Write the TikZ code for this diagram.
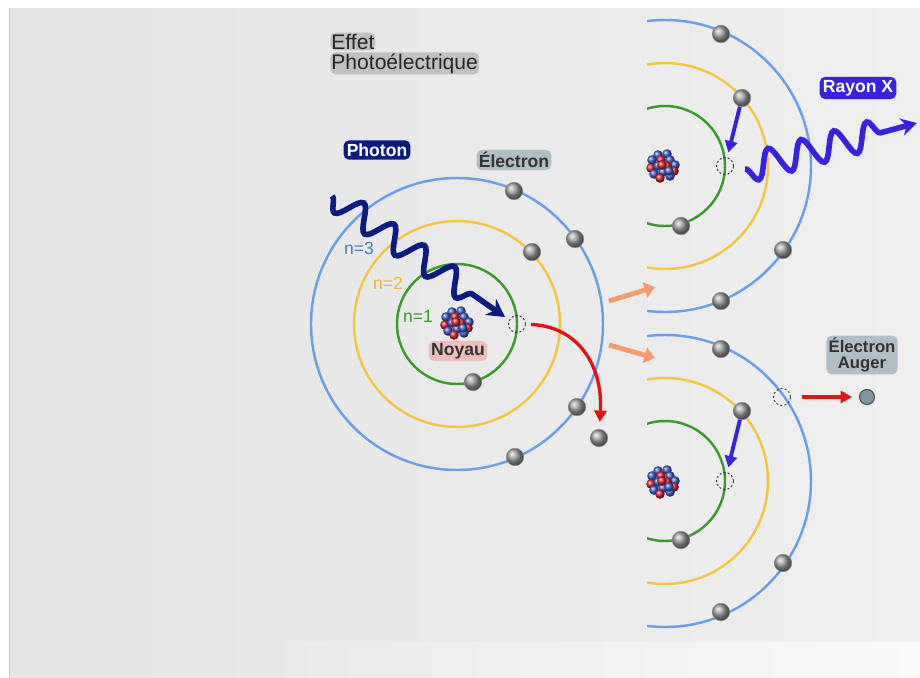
\documentclass[tikz,border=0pt]{standalone}
\usepackage{fontspec}
\setmainfont{Liberation Sans}
\usetikzlibrary{arrows.meta, decorations.pathmorphing}

\definecolor{orbthree}{HTML}{6A9FE6}
\definecolor{orbtwo}{HTML}{F4C63E}
\definecolor{orbone}{HTML}{3C9A2C}
\definecolor{photonblue}{HTML}{0C1A82}
\definecolor{xrayblue}{HTML}{3A1FE4}
\definecolor{ejectred}{HTML}{E01414}
\definecolor{stepsalmon}{HTML}{F59C6C}
\definecolor{nucred}{HTML}{D41E2C}
\definecolor{nucblue}{HTML}{3A5CC8}
\definecolor{haloslate}{HTML}{9DB0B7}
\definecolor{halopink}{HTML}{EDB0AE}
\definecolor{halogray}{HTML}{B4B4B4}

\begin{document}
\begin{tikzpicture}[x=0.02cm, y=-0.02cm, >=Stealth,
    orbit/.style={line width=1.4pt},
    electron/.style={circle, inner sep=0pt, minimum size=0.35cm,
        ball color=gray!75, draw=black!45, line width=0.3pt},
    hole/.style={circle, inner sep=0pt, minimum size=0.34cm,
        draw=black!80, line width=0.5pt, dash pattern=on 1.2pt off 1.2pt},
    jump/.style={xrayblue, line width=2.2pt, shorten >=0.1cm,
        -{Triangle[length=6.5pt, width=7pt]}},
    eject/.style={ejectred, line width=1.9pt, shorten <=0.1cm, shorten >=0.14cm,
        -{Triangle[length=6.5pt, width=7pt]}},
    boost/.style={stepsalmon, line width=2.8pt, -{Triangle[length=6pt, width=9pt]}},
    photon/.style={photonblue, line width=3.2pt, -{Stealth[length=10pt, width=11pt]},
        decorate, decoration={snake, amplitude=0.25cm, segment length=0.74cm,
        post length=0.75cm, mirror}},
    xray/.style={xrayblue, line width=3.2pt, -{Stealth[length=9pt, width=10pt]},
        decorate, decoration={snake, amplitude=0.28cm, segment length=0.68cm,
        post length=0.5cm, mirror}},
    glow/.style={inner sep=1.3pt, rounded corners=3pt, fill opacity=0.75, text opacity=1},
    tag/.style={glow, font=\bfseries\fontsize{10}{11}\selectfont, text=black!80},
    level/.style={font=\fontsize{10}{11}\selectfont, inner sep=0pt},
    nucleus/.pic={
        \foreach \dx/\dy/\c in {-5/-11/nucblue, 4/-12/nucblue, -11/-6/nucblue,
            -2/-6/nucred, 7/-6/nucblue, 12/-1/nucblue, -12/2/nucred, -5/0/nucblue,
            4/0/nucred, 11/5/nucred, -9/8/nucblue, 0/6/nucblue, 7/10/nucblue,
            -3/12/nucred, -1/-1/nucred, 6/5/nucblue}
            \shade[ball color=\c] (\dx,\dy) circle (4.8);
    }]

    % background
    \useasboundingbox (0,0) rectangle (920,677);
    \fill[white] (0,0) rectangle (920,677);
    \shade[left color={rgb,255:red,229;green,229;blue,229}, right color={rgb,255:red,239;green,239;blue,239}]
        (9,8) rectangle (920,677);
    \shade[left color={rgb,255:red,234;green,234;blue,234}, right color={rgb,255:red,249;green,249;blue,249}]
        (285,642) rectangle (920,677);
    \draw[black!22, line width=0.6pt] (9.5,8) -- (9.5,677);

    % main atom
    \draw[orbthree, orbit] (457,324) circle (146);
    \draw[orbtwo, orbit] (457,324) circle (103);
    \draw[orbone, orbit] (457,324) circle (60);
    \pic at (457,323) {nucleus};

    % atoms after the ejection (cut at the left)
    \begin{scope}
        \clip (647,0) rectangle (920,677);
        \draw[orbthree, orbit] (665,166) circle (146);
        \draw[orbtwo, orbit] (665,166) circle (103);
        \draw[orbone, orbit] (665,166) circle (60);
        \draw[orbthree, orbit] (665,481) circle (146);
        \draw[orbtwo, orbit] (665,481) circle (103);
        \draw[orbone, orbit] (665,481) circle (60);
    \end{scope}
    \pic at (663,166) {nucleus};
    \pic at (663,482) {nucleus};

    \node[electron] (eA1) at (514,191) {};
    \node[electron] (eA2) at (575,239) {};
    \node[electron] (eA3) at (532,252) {};
    \node[electron] (eA4) at (473,382) {};
    \node[electron] (eA5) at (577,407) {};
    \node[electron] (eA6) at (515,457) {};
    \node[electron] (eOut) at (599,438) {};
    \node[hole] (vA) at (517,324) {};

    \node[electron] (eT1) at (721,34) {};
    \node[electron] (eT2) at (742,98) {};
    \node[electron] (eT3) at (681,226) {};
    \node[electron] (eT4) at (783,250) {};
    \node[electron] (eT5) at (721,301) {};
    \node[hole] (vT) at (725,166) {};

    \node[electron] (eB1) at (721,349) {};
    \node[electron] (eB2) at (742,411) {};
    \node[electron] (eB3) at (681,540) {};
    \node[electron] (eB4) at (783,563) {};
    \node[electron] (eB5) at (721,612) {};
    \node[hole] (vB) at (725,481) {};
    \node[hole] (vB3) at (782,397) {};
    \node[circle, inner sep=0pt, minimum size=0.3cm, fill={rgb,255:red,128;green,148;blue,158},
        draw=black!70, line width=0.6pt] (auger) at (867,397) {};

    \coordinate (phstart) at (332,196);
    \coordinate (phend) at (505,317);
    \coordinate (xstart) at (745,169);
    \coordinate (xend) at (917,123);
    \coordinate (up0) at (609,301);
    \coordinate (up1) at (655,287);
    \coordinate (dn0) at (609,345);
    \coordinate (dn1) at (655,358);

    \draw[photon] (phstart) -- (phend);
    \draw[eject] (vA) .. controls (575,326) and (603,362) .. (eOut);
    \draw[boost] (up0) -- (up1);
    \draw[boost] (dn0) -- (dn1);
    \draw[jump] (eT2) -- (vT);
    \draw[xray] (xstart) -- (xend);
    \draw[jump] (eB2) -- (vB);
    \draw[eject, shorten <=0.22cm] (vB3) -- (auger);

    % labels
    \node[glow, fill=halogray, inner sep=0.6pt, font=\fontsize{12}{13}\selectfont, text=black!85,
        anchor=base west] (ttl1) at (330,49) {Effet};
    \node[glow, fill=halogray, inner sep=0.6pt, font=\fontsize{12}{13}\selectfont, text=black!85,
        anchor=base west] (ttl2) at (330,69) {Photoélectrique};
    \node[tag, fill=haloslate] (lelec) at (514,160) {Électron};
    \node[tag, fill=halopink] (lnoyau) at (458,351) {Noyau};
    \node[tag, fill=haloslate, align=center, font=\bfseries\fontsize{9.5}{9}\selectfont]
        (lauger) at (862,355) {Électron\\Auger};
    \node[tag, fill=photonblue, text=white, fill opacity=1, inner sep=1.8pt] (lphoton) at (377,150) {Photon};
    \node[tag, fill=xrayblue, text=white, fill opacity=1, inner sep=1.8pt] (lray) at (858,88) {Rayon X};

    \node[level, text={rgb,255:red,64;green,126;blue,190}] (n3) at (359,248) {n=3};
    \node[level, text={rgb,255:red,238;green,182;blue,48}] (n2) at (388,283) {n=2};
    \node[level, text=orbone] (n1) at (418,316) {n=1};
\end{tikzpicture}
\end{document}
